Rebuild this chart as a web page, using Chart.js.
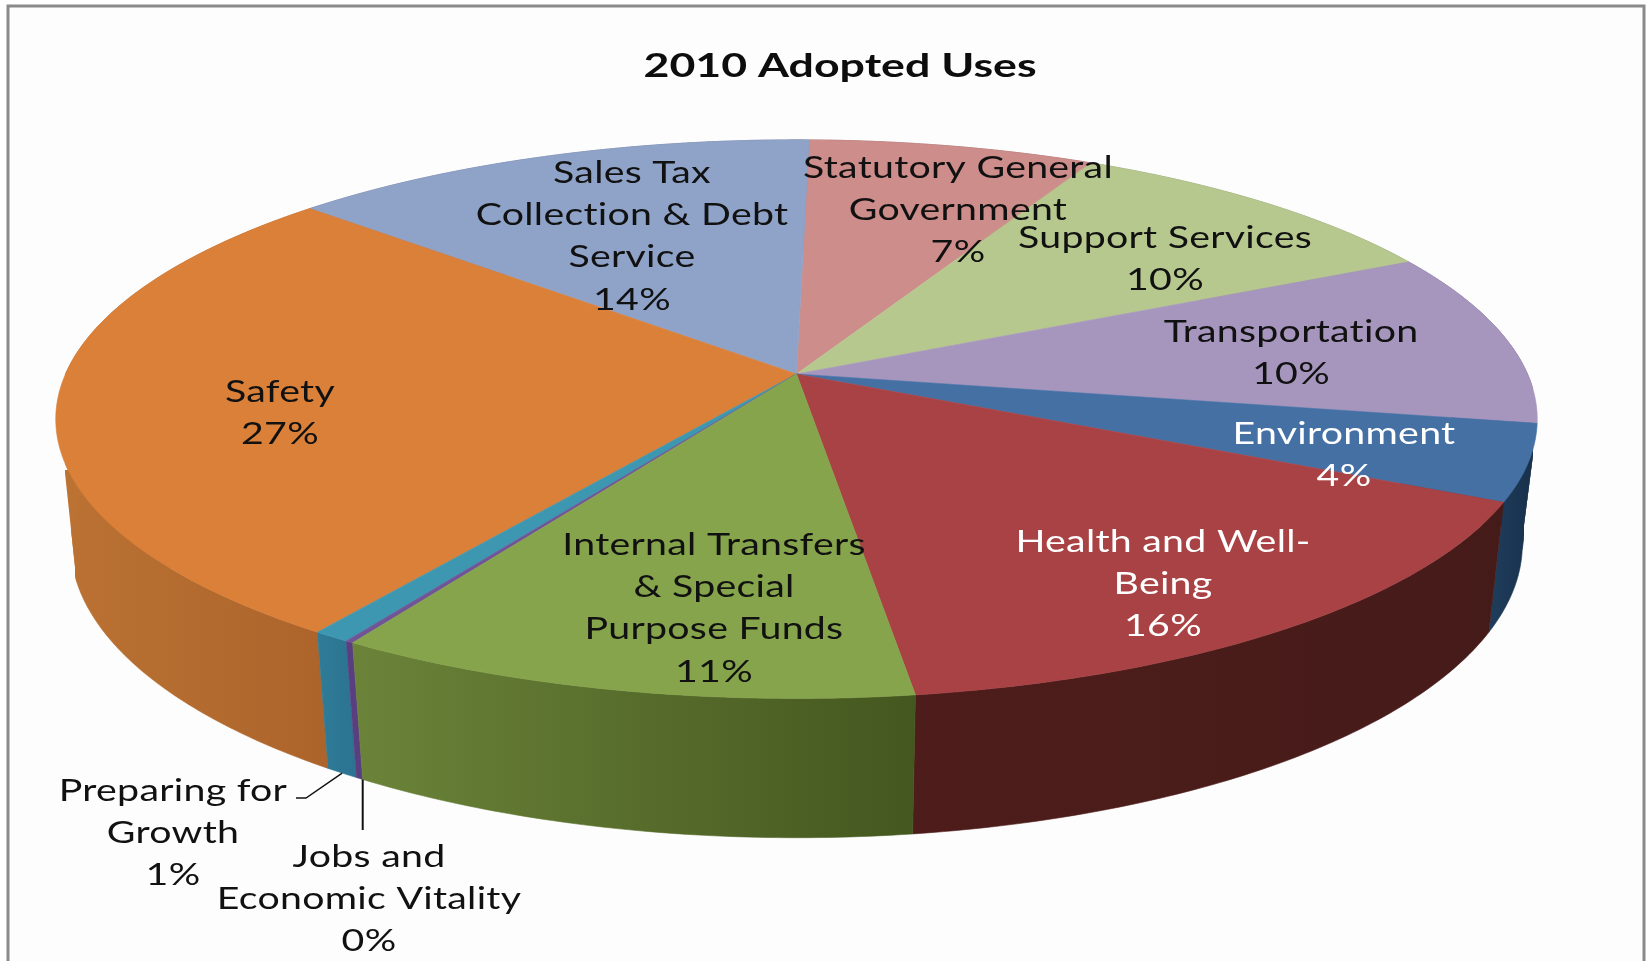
<!DOCTYPE html>
<html>
<head>
<meta charset="utf-8">
<style>html,body{margin:0;padding:0;background:#fff}canvas{display:block}</style>
<script src="https://cdn.jsdelivr.net/npm/chart.js@4/dist/chart.umd.min.js"></script>
</head>
<body>
<canvas id="c" width="1646" height="961"></canvas>
<script>
const categories = ["Statutory General Government","Support Services","Transportation","Environment","Health and Well-Being","Internal Transfers & Special Purpose Funds","Jobs and Economic Vitality","Preparing for Growth","Safety","Sales Tax Collection & Debt Service"];
const shares = [7.3,10.1,10.1,4.4,15.6,10.95,0.15,0.7,27.16,13.54];
const chartTitle = "2010 Adopted Uses";
const labelLines = [["Statutory General","Government"],["Support Services"],["Transportation"],["Environment"],["Health and Well-","Being"],["Internal Transfers","& Special","Purpose Funds"],["Jobs and","Economic Vitality"],["Preparing for","Growth"],["Safety"],["Sales Tax","Collection & Debt","Service"]];
const topColors = ["#CD8D8B","#B7C88F","#A696BE","#4470A4","#A94244","#86A44B","#6F5597","#3E97B1","#DA8039","#8FA3C9"];
const wallLeft = ["#8f5a58","#7f8c62","#735f88","#1f3d5c","#4e1d1b","#6B8339","#5a3f80","#2F7C97","#BB7233","#64728d"];
const wallRight = ["#8f5a58","#7f8c62","#735f88","#17304B","#451B19","#44571F","#5a3f80","#2C7391","#AC642B","#64728d"];

// label placement: [centre x, first-line centre y]
const labelAnchors = [[958,168],[1165,238],[1291,332],[1344,434],[1163,542],[714,545],[369,857],[173,791],[280,392],[632,173]];
const labelColors = ["#111","#111","#111","#fff","#fff","#111","#111","#111","#111","#111"];

// projected disc: centre, half-axes, perspective and wall depth
const P = {cx:796.5, cy:374, a:731, b:272, k:0.1617, d:126, m:0.02};
function project(theta, h){
  const u = Math.sin(theta), v = Math.cos(theta);
  const w = 1 + P.k*v + P.m*h;
  return [P.cx + P.a*u/w, P.cy + (-P.b*v + P.d*h)/w];
}
function sliceAngles(arc){
  const p = arc.getProps(['startAngle','endAngle'], true);
  return [p.startAngle + Math.PI/2, p.endAngle + Math.PI/2];
}
const perspectivePie = {
  id:'perspectivePie',
  beforeDraw(chart){
    const ctx = chart.ctx;
    ctx.save();
    ctx.fillStyle='#ffffff'; ctx.fillRect(0,0,1646,961);
    ctx.fillStyle='#FDFDFD'; ctx.fillRect(8,6,1636,955);
    ctx.strokeStyle='#8a8a8a'; ctx.lineWidth=3;
    ctx.beginPath(); ctx.moveTo(8,961); ctx.lineTo(8,6); ctx.lineTo(1644,6); ctx.lineTo(1644,961); ctx.stroke();
    ctx.restore();
    // the title box is drawn next; widen it about its centre
    ctx.setTransform(1.354,0,0,1,840*(1-1.354),0);
  },
  beforeDatasetsDraw(chart){
    const ctx = chart.ctx;
    ctx.setTransform(1,0,0,1,0,0);
    const arcs = chart.getDatasetMeta(0).data;
    const order = arcs.map((a,i)=>{const [s,e]=sliceAngles(a);return {i,s,e,v:Math.cos((s+e)/2)};}).sort((p,q)=>q.v-p.v);
    // walls
    ctx.save();
    ctx.beginPath();
    ctx.moveTo(65,473); ctx.lineTo(75,567); ctx.lineTo(75,961); ctx.lineTo(1524,961); ctx.lineTo(1524,525); ctx.lineTo(1533,455); ctx.lineTo(1533,0); ctx.lineTo(65,0); ctx.closePath();
    ctx.clip();
    ctx.fillStyle=wallLeft[8]; ctx.fillRect(60,470,140,98);
    ctx.fillStyle=wallRight[3]; ctx.fillRect(1400,452,135,74);
    order.forEach(o=>{
      const n = Math.max(4,Math.ceil((o.e-o.s)*80));
      const pts=[];
      for(let j=0;j<=n;j++) pts.push(project(o.s+(o.e-o.s)*j/n,0));
      for(let j=n;j>=0;j--) pts.push(project(o.s+(o.e-o.s)*j/n,1));
      const xs=pts.map(p=>p[0]);
      const g=ctx.createLinearGradient(Math.min(...xs),0,Math.max(...xs),0);
      g.addColorStop(0,wallLeft[o.i]); g.addColorStop(1,wallRight[o.i]);
      ctx.beginPath(); pts.forEach((p,j)=>j?ctx.lineTo(p[0],p[1]):ctx.moveTo(p[0],p[1])); ctx.closePath();
      ctx.fillStyle=g; ctx.fill(); ctx.strokeStyle=g; ctx.lineWidth=0.6; ctx.stroke();
    });
    ctx.restore();
    // top faces
    order.forEach(o=>{
      const n = Math.max(4,Math.ceil((o.e-o.s)*80));
      ctx.beginPath(); ctx.moveTo(P.cx,P.cy);
      for(let j=0;j<=n;j++){const p=project(o.s+(o.e-o.s)*j/n,0);ctx.lineTo(p[0],p[1]);}
      ctx.closePath();
      ctx.fillStyle=topColors[o.i]; ctx.fill();
      ctx.strokeStyle=topColors[o.i]; ctx.lineWidth=0.6; ctx.stroke();
    });
    // leader lines
    ctx.strokeStyle='#111'; ctx.lineWidth=2;
    const leadJ=project(sliceAngles(arcs[6])[0],1);
    ctx.beginPath(); ctx.moveTo(leadJ[0],leadJ[1]); ctx.lineTo(leadJ[0],830); ctx.stroke();
    const s7=sliceAngles(arcs[7]); const leadP=project((s7[0]+s7[1])/2,1);
    ctx.lineWidth=1.4;
    ctx.beginPath(); ctx.moveTo(leadP[0],leadP[1]); ctx.lineTo(306,798); ctx.lineTo(296,798); ctx.stroke();
    // labels
    const fontSize=30, stretch=1.31, lineGap=42.4;
    ctx.font=fontSize+'px Lato'; ctx.textAlign='center'; ctx.textBaseline='middle'; ctx.letterSpacing='0.2px';
    arcs.forEach((a,i)=>{
      const lines=labelLines[i].concat([Math.round(shares[i])+'%']);
      ctx.fillStyle=labelColors[i];
      lines.forEach((t,j)=>{
        ctx.save();
        ctx.translate(labelAnchors[i][0],labelAnchors[i][1]+j*lineGap);
        ctx.scale(stretch,1);
        ctx.fillText(t,0,0);
        ctx.restore();
      });
    });
    return false;
  }
};
new Chart(document.getElementById('c'),{
  type:'pie',
  data:{labels:categories,datasets:[{data:shares,backgroundColor:topColors,borderWidth:0}]},
  options:{
    responsive:false,animation:false,devicePixelRatio:1,rotation:1.15,
    layout:{padding:{left:34,right:0,top:0,bottom:0}},
    plugins:{
      legend:{display:false},tooltip:{enabled:false},
      title:{display:true,text:chartTitle,color:'#0d0d0d',font:{family:'Lato',size:33,weight:'bold',lineHeight:1.2},padding:{top:47,bottom:0}}
    }
  },
  plugins:[perspectivePie]
});
</script>
</body>
</html>
